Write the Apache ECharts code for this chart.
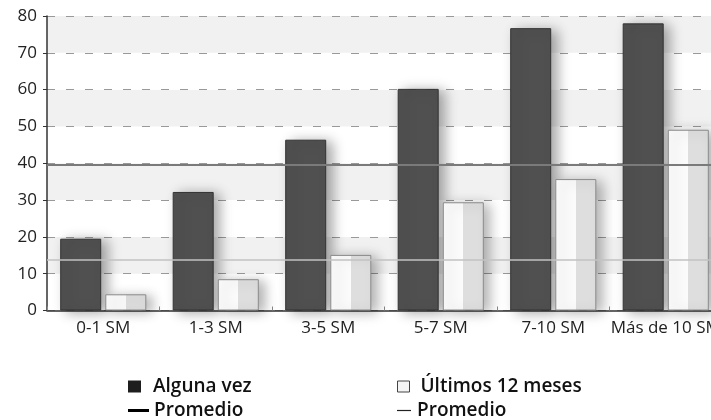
<!DOCTYPE html>
<html>
<head>
<meta charset="utf-8">
<script src="https://cdn.jsdelivr.net/npm/echarts@6/dist/echarts.min.js"></script>
<style>html,body{margin:0;padding:0;background:#fff}#c{width:711px;height:420px}</style>
</head>
<body>
<div id="c"></div>
<script>
var categories = ['0-1 SM', '1-3 SM', '3-5 SM', '5-7 SM', '7-10 SM', 'Más de 10 SM'];
var algunaVez = [19.5, 32.2, 46.4, 60.2, 76.7, 78.0];
var ultimos12 = [4.4, 8.5, 15.1, 29.4, 35.7, 49.1];
var promedioAlguna = 39.6;
var promedioUltimos = 13.9;
var yTicks = [0, 10, 20, 30, 40, 50, 60, 70, 80];

var FONT = '"Open Sans", "Noto Sans", sans-serif';
var chart = echarts.init(document.getElementById('c'), null, {renderer: 'canvas'});
var lightFill = new echarts.graphic.LinearGradient(0, 0, 1, 0, [
  {offset: 0, color: '#fbfbfb'}, {offset: 0.5, color: '#fbfbfb'},
  {offset: 0.5, color: '#dedede'}, {offset: 1, color: '#dedede'}
]);
function lt(padLeft) {
  return {fontFamily: FONT, fontSize: 19, fontWeight: 600, color: '#111', padding: [0, 0, 0, padLeft]};
}
chart.setOption({
  animation: false,
  backgroundColor: '#fff',
  grid: {left: 47, width: 675, top: 16, bottom: 109.5, containLabel: false, outerBoundsMode: 'none'},
  legend: [
    {left: 123, top: 372, itemWidth: 13, itemHeight: 12, textStyle: lt(7),
     data: [{name: 'Alguna vez', icon: 'rect', itemStyle: {color: '#1e1e1e', borderWidth: 0, shadowBlur: 0}}]},
    {left: 123, top: 396, itemWidth: 21, itemHeight: 3, textStyle: lt(0),
     formatter: function () { return 'Promedio'; },
     data: [{name: 'Promedio A', icon: 'rect', itemStyle: {color: '#000'}}]},
    {left: 392, top: 372, itemWidth: 12, itemHeight: 11, textStyle: lt(6),
     data: [{name: 'Últimos 12 meses', icon: 'rect', itemStyle: {color: '#f4f4f4', borderColor: '#444', borderWidth: 1, shadowBlur: 0}}]},
    {left: 392, top: 396, itemWidth: 14, itemHeight: 1.2, textStyle: lt(1),
     formatter: function () { return 'Promedio'; },
     data: [{name: 'Promedio B', icon: 'rect', itemStyle: {color: '#222'}}]}
  ],
  xAxis: {
    type: 'category',
    data: categories,
    axisLine: {lineStyle: {color: '#333', width: 1.5}},
    axisTick: {show: true, inside: true, length: 4, lineStyle: {color: '#888'}},
    axisLabel: {interval: 0, fontFamily: FONT, fontSize: 17, color: '#222', margin: 9}
  },
  yAxis: {
    type: 'value',
    min: 0, max: 80, interval: 10,
    axisLine: {show: true, lineStyle: {color: '#333', width: 1.5}},
    axisTick: {show: true, length: 4, lineStyle: {color: '#333'}},
    axisLabel: {fontFamily: FONT, fontSize: 17, color: '#222', margin: 10,
      customValues: yTicks},
    splitLine: {show: true, lineStyle: {color: '#999', type: [8, 11], width: 1}},
    splitArea: {show: true, areaStyle: {color: ['#ffffff', '#f1f1f1']}}
  },
  series: [
    {
      name: 'Alguna vez', type: 'bar', data: algunaVez,
      barWidth: 41, barGap: '10%',
      itemStyle: {color: '#505050', borderColor: '#333', borderWidth: 1,
        shadowColor: 'rgba(0,0,0,0.35)', shadowBlur: 12, shadowOffsetX: 6, shadowOffsetY: 2}
    },
    {
      name: 'Últimos 12 meses', type: 'bar', data: ultimos12,
      barWidth: 41,
      itemStyle: {color: lightFill, borderColor: '#8a8a8a', borderWidth: 1,
        shadowColor: 'rgba(0,0,0,0.3)', shadowBlur: 12, shadowOffsetX: 6, shadowOffsetY: 2}
    },
    {
      name: 'Promedio A', type: 'line', data: [],
      itemStyle: {color: '#000'},
      markLine: {silent: true, symbol: 'none', label: {show: false},
        lineStyle: {color: '#7a7a7a', width: 2, type: 'solid'},
        data: [{yAxis: promedioAlguna}]}
    },
    {
      name: 'Promedio B', type: 'line', data: [],
      itemStyle: {color: '#222'},
      markLine: {silent: true, symbol: 'none', label: {show: false},
        lineStyle: {color: '#c2c2c2', width: 1.5, type: 'solid'},
        data: [{yAxis: promedioUltimos}]}
    }
  ]
});
</script>
</body>
</html>
